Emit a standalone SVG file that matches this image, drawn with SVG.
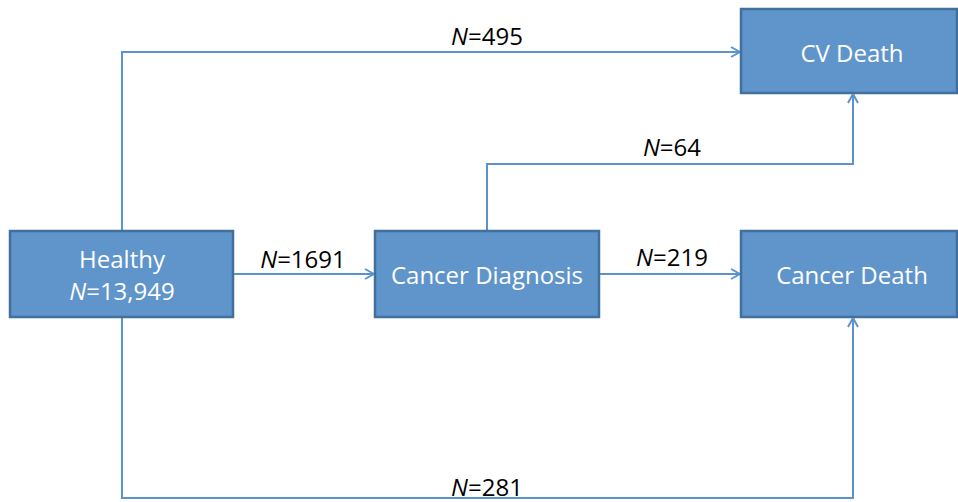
<svg xmlns="http://www.w3.org/2000/svg" width="958" height="502" viewBox="0 0 958 502">
<style>
.box{fill:#5f95cb;stroke:#41709c;stroke-width:2.5}
.bt{font-family:"Open Sans","Liberation Sans",sans-serif;font-size:24px;fill:#ffffff;text-anchor:middle}
.lt{font-family:"Open Sans","Liberation Sans",sans-serif;font-size:24px;fill:#000000;text-anchor:middle}
.ln{fill:none;stroke:#5b93cf;stroke-width:2}
</style>
<defs>
<marker id="ah" viewBox="0 0 12 12" refX="11" refY="6" markerWidth="12" markerHeight="12" markerUnits="userSpaceOnUse" orient="auto">
<path d="M2,1 L11,6 L2,11" fill="none" stroke="#5b93cf" stroke-width="2"/>
</marker>
</defs>
<g id="connectors">
<path class="ln" d="M122,231 V52 H740" marker-end="url(#ah)"/>
<path class="ln" d="M487,231 V164 H853 V94" marker-end="url(#ah)"/>
<path class="ln" d="M234,274 H374" marker-end="url(#ah)"/>
<path class="ln" d="M600,274 H740" marker-end="url(#ah)"/>
<path class="ln" d="M122,317 V498 H853 V318" marker-end="url(#ah)"/>
<text class="lt" x="487" y="45"><tspan font-style="italic">N</tspan>=495</text>
<text class="lt" x="672" y="156"><tspan font-style="italic">N</tspan>=64</text>
<text class="lt" x="303" y="268"><tspan font-style="italic">N</tspan>=1691</text>
<text class="lt" x="672" y="266"><tspan font-style="italic">N</tspan>=219</text>
<text class="lt" x="487" y="496"><tspan font-style="italic">N</tspan>=281</text>
</g>
<g id="healthy">
<rect class="box" x="10" y="231" width="223" height="86"/>
<text class="bt" x="122" y="268">Healthy</text>
<text class="bt" x="122" y="300"><tspan font-style="italic">N</tspan>=13,949</text>
</g>
<g id="cancer-diagnosis">
<rect class="box" x="375" y="231" width="224" height="86"/>
<text class="bt" x="487" y="284">Cancer Diagnosis</text>
</g>
<g id="cv-death">
<rect class="box" x="741" y="9" width="216" height="84"/>
<text class="bt" x="852" y="62">CV Death</text>
</g>
<g id="cancer-death">
<rect class="box" x="741" y="231" width="216" height="86"/>
<text class="bt" x="852" y="284">Cancer Death</text>
</g>
</svg>
